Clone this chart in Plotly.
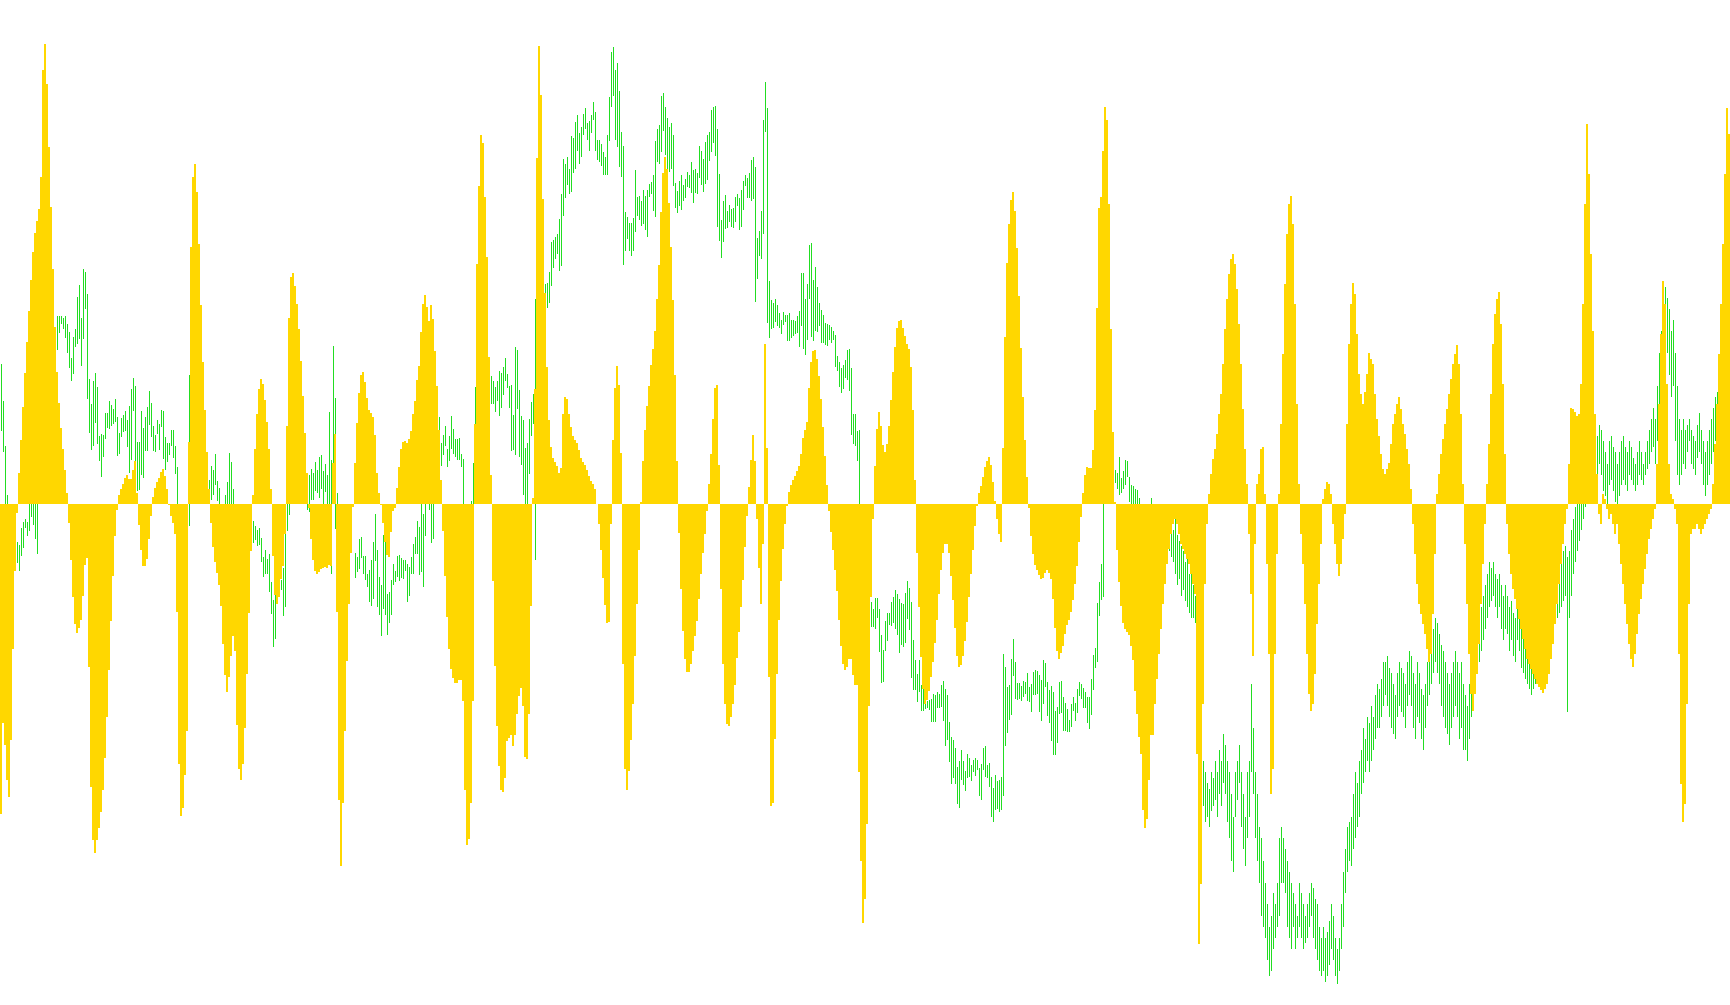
import plotly.graph_objects as go

N_BARS = 865
N = None

# oscillator histogram values, one per bar
osc = [
-310,-219,-241,-276,-293,-236,-145,-67,-9,31,
64,97,131,162,193,224,252,271,283,295,
327,434,460,420,357,297,235,177,132,101,
76,55,34,11,-19,-56,-93,-120,-129,-124,
-116,-92,-61,-54,-163,-283,-336,-349,-336,-324,
-308,-286,-254,-213,-166,-117,-72,-32,-6,9,
15,20,26,29,25,25,34,43,11,-21,
-46,-62,
-62,-55,-35,-12,7,16,22,26,32,35,
28,15,-1,-12,-19,-30,-108,-260,-312,-304,
-271,-227,62,257,327,340,312,260,199,142,
94,52,15,-19,-43,-58,-69,-81,-102,-140,
-171,-188,-173,-152,-132,-147,-221,-265,-276,-260,
-224,-170,-109,-47,9,55,90,115,125,120,
104,82,55,15,-52,-91,-100,-93,-75,-62,
-30,78,
186,227,231,218,200,175,143,108,71,31,
-4,-35,-56,-67,-70,-68,-65,-64,-63,-64,
-61,-62,41,70,-108,-296,-362,-299,-227,-157,
-100,-49,-3,41,81,111,129,132,122,106,
94,91,87,69,31,11,-1,-19,-38,-51,
-53,-28,-7,-4,16,37,55,62,63,61,
65,73,90,103,124,138,172,200,209,197,
183,199,
185,153,118,74,24,-27,-72,-113,-145,-165,
-174,-179,-179,-176,-176,-197,-286,-341,-335,-299,
-197,80,240,318,369,361,307,247,147,29,
-77,-162,-222,-262,-286,-288,-274,-237,-234,-231,
-242,-231,-210,-192,-184,-202,-253,-255,-210,-102,
6,115,346,458,409,305,211,137,84,57,
46,42,38,31,36,90,107,105,90,77,
68,64,
61,54,46,42,39,34,28,23,20,15,
0,-20,-46,-74,-101,-119,-118,-20,64,116,
138,119,51,-160,-265,-286,-267,-236,-200,-152,
-100,-46,2,43,74,98,118,139,155,173,
205,239,292,331,347,335,301,257,204,129,
43,-29,-85,-127,-155,-168,-168,-160,-147,-132,
-117,-95,-70,-49,-30,-7,20,50,85,116,
119,39,
-85,-160,-200,-220,-222,-213,-200,-181,-154,-128,
-103,-76,-43,-12,17,44,69,43,-15,-64,
-100,-40,160,56,-173,-302,-299,-235,-170,-116,
-77,-45,-20,-2,12,19,24,28,33,38,
50,66,74,82,116,142,153,154,145,128,
105,77,48,19,-7,-28,-46,-66,-87,-116,
-142,-160,-166,-163,-155,-155,-171,-181,-181,-268,
-357,-419,
-395,-320,-202,-93,-15,38,75,92,78,59,
52,60,78,104,132,157,176,183,184,176,
168,160,155,137,94,24,-49,-103,-153,-185,
-200,-196,-187,-173,-158,-139,-116,-90,-66,-49,
-40,-40,-49,-72,-96,-124,-152,-163,-161,-152,
-137,-118,-93,-70,-46,-22,-2,11,18,27,
37,43,47,39,22,3,-15,-30,-38,56,
167,241,
280,304,312,293,256,208,156,107,64,27,
-4,-32,-50,-61,-66,-71,-75,-74,-69,-66,
-69,-75,-95,-124,-147,-155,-149,-142,-130,-121,
-116,-108,-96,-80,-62,-38,-13,11,29,37,
36,36,54,94,196,296,307,353,397,384,
300,175,72,2,-46,-78,-102,-119,-125,-128,
-131,-142,-156,-187,-210,-233,-250,-306,-324,-315,
-276,-231,-231,
-200,-175,-150,-125,-100,-80,
-60,-45,-30,-20,-15,-20,-30,-40,-45,-50,-55,-60,-70,-80,-90,
-250,-440,-380,-200,-80,-20,
10,30,45,55,70,90,110,140,175,205,230,245,250,240,215,180,140,95,55,20,
-30,
-90,-152,
-40,20,
30,55,57,
10,-60,
-150,-290,-265,-150,
-50,10,80,
150,220,270,300,308,280,200,100,
20,-30,
-60,-100,-150,-190,-207,-200,-170,-120,-80,-40,
5,15,22,20,10,
-20,-40,-60,-72,-60,-35,-10,
80,160,200,221,210,170,130,110,
100,112,130,151,145,140,110,85,68,50,35,30,35,41,60,80,90,100,107,95,80,70,55,40,15,
-20,-50,-80,-100,-110,-120,-130,-145,-158,-150,-110,-50,
10,30,50,65,80,95,110,125,140,150,159,140,90,
20,-40,-100,-150,-190,-207,-190,-170,-140,-100,-60,-20,
20,60,110,160,190,205,212,180,120,50,
-20,-50,-70,-85,-95,-105,-115,-125,-135,-145,-155,-160,-165,-170,-175,-180,-183,-186,-189,-185,
-180,-170,-155,-140,-120,-100,-80,-60,-40,-20,-5,
40,96,95,92,88,90,120,200,300,380,330,250,173,90,30,
-10,-20,10,5,-5,-15,-10,-20,-30,
-20,-40,-60,-80,-100,-120,-140,-155,-163,-150,-130,-110,-95,-80,-65,-50,-35,-25,-15,-5,
40,100,170,223,200,120,40,
10,5,-5,
-20,-150,-280,-318,-300,-200,-100,-30,
-25,-25,-20,-25,-30,-25,-20,-15,-10,-5,
20,60,100,150,200,260,330,396,370,
]

# price bar highs / lows (None where the bar is hidden behind the histogram)
price_high = [
1060,1000,928,848,N,N,N,N,772,768,
795,805,810,805,850,855,850,845,860,N,
N,N,N,N,N,N,N,N,1138,1138,
1138,1135,1138,1124,1112,1070,1103,1116,1168,1188,
1134,1214,1209,1173,1036,995,1032,1046,1023,943,
947,945,981,981,1000,994,987,1004,974,949,
972,978,984,970,992,1020,1037,1025,934,934,
984,957,974,990,1016,997,960,945,970,963,
986,984,942,932,932,953,953,928,894,N,
N,N,N,N,1042,N,N,N,N,N,
N,N,N,N,873,895,889,915,870,860,
N,N,848,869,916,901,857,N,N,N,
N,N,N,N,N,N,806,798,792,794,
779,748,759,745,753,708,678,687,N,N,
710,730,785,860,900,N,N,N,N,N,
N,N,N,850,880,890,883,902,889,909,
913,887,898,880,982,905,1089,1005,852,N,
N,N,N,N,N,N,N,755,748,777,
780,749,750,721,727,743,772,818,759,716,
703,784,778,688,691,711,737,725,750,751,
746,743,743,736,731,748,769,780,806,797,
840,817,850,N,850,860,860,N,N,974,
932,945,959,923,944,976,955,939,939,940,
915,907,N,N,N,839,900,1022,N,N,
N,N,N,N,N,1041,1033,1022,1033,1048,
1045,1055,1070,1044,1025,1026,978,1088,1082,1018,
976,969,924,932,971,999,1012,1165,N,N,
N,N,1190,1191,1209,1257,1260,1265,1270,1294,
1334,1392,1383,1395,1375,1428,1425,1451,1463,1433,
1443,1464,1474,1450,1453,1463,1484,1467,1422,1422,
1416,1403,1395,1430,1492,1564,1573,1535,1547,1501,
1435,1413,1306,1297,1288,1288,1296,1374,1330,1332,
1324,1341,1332,1341,1351,1355,1366,1421,1440,1446,
1493,1498,1475,1458,1443,1450,1430,1353,1340,1356,
1365,1349,1359,1370,1366,1387,1373,1376,1369,1412,
1405,1391,1419,1430,1435,1470,1475,1477,1440,1367,
1293,1324,1333,1307,1317,1311,1312,1330,1334,1329,
1342,1356,1366,1360,1369,1390,1395,1379,1264,1275,
1307,1455,1516,1474,1194,1164,1159,1165,1155,1143,
1131,1144,1139,1139,1143,1131,1131,1129,1137,1146,
1207,1207,1165,1190,1252,1256,1195,1217,1185,1159,
1147,1139,1127,1124,1123,1120,1113,1107,1073,1063,
1054,1059,1067,1083,1084,1054,979,979,952,953,
N,N,N,N,N,675,663,682,682,663,
622,597,645,658,658,675,683,695,688,680,
673,672,689,709,697,675,614,582,559,581,
541,540,515,515,516,518,527,524,530,526,
541,548,535,524,481,457,452,439,408,418,
436,418,402,430,423,412,420,423,419,406,
413,439,442,412,415,392,374,396,385,387,
392,591,570,537,541,583,616,578,544,544,
540,547,545,560,537,542,562,565,563,557,
549,581,576,545,532,539,529,499,506,546,
548,521,512,502,485,510,522,511,535,546,
542,536,529,521,521,550,589,600,673,708,
736,850,N,N,N,N,N,889,884,909,
875,887,905,903,878,865,862,857,856,843,
N,N,N,N,N,843,N,N,N,N,
N,N,N,N,810,801,792,810,783,774,
765,757,739,748,721,730,703,685,N,N,
N,418,400,382,373,400,391,418,400,435,
418,462,444,418,400,364,328,400,418,444,
400,364,328,400,418,542,471,400,364,311,
293,257,221,186,150,168,204,186,221,293,
311,293,275,257,239,221,204,186,168,221,
204,186,168,186,204,221,212,195,186,150,
132,150,132,141,159,186,168,132,114,132,
186,239,275,311,319,328,364,400,382,418,
435,471,453,489,480,507,489,525,542,534,
551,578,578,587,569,560,542,525,560,578,
569,560,542,578,596,587,560,542,578,560,
534,525,542,578,587,614,632,650,641,623,
605,596,578,560,542,560,578,596,578,560,
578,542,525,507,542,578,596,614,632,650,
667,685,703,721,739,730,739,721,712,721,
703,685,703,685,667,676,658,650,685,676,
650,641,623,614,605,596,587,605,614,623,
632,650,667,676,685,694,703,712,721,730,
739,757,765,748,757,792,810,828,846,864,
881,899,917,935,953,962,953,935,944,962,
953,935,917,899,935,944,926,917,899,917,
935,944,926,917,935,926,908,899,917,935,
917,899,917,935,953,971,988,971,1024,1078,
1113,1167,1185,1167,1149,1113,1131,1078,1024,971,
953,971,953,962,971,953,944,935,962,980,
953,935,917,935,953,971,988,1006,1015,1024,
1042,1051,1060,1060,1051,
]

price_low = [
952,918,820,800,N,N,N,N,738,725,
750,762,795,782,790,813,799,777,752,N,
N,N,N,N,N,N,N,N,1082,1110,
1125,1117,1102,1078,1053,1032,1043,1087,1092,1100,
1057,1100,1149,1004,949,921,928,964,930,903,
877,910,938,956,955,960,963,966,911,914,
942,950,952,925,883,905,984,903,854,856,
880,875,919,919,962,942,920,917,947,921,
958,907,888,902,912,928,908,882,820,N,
N,N,N,N,798,N,N,N,N,N,
N,N,N,N,840,840,848,865,838,825,
N,N,810,810,810,810,810,N,N,N,
N,N,N,N,N,N,770,775,765,768,
740,716,720,720,692,656,603,616,N,N,
695,652,667,790,815,N,N,N,N,N,
N,N,N,824,820,840,840,855,852,843,
858,830,853,830,825,720,900,793,810,N,
N,N,N,N,N,N,N,714,724,729,
746,720,711,700,675,669,680,742,667,654,
620,664,654,621,641,654,703,708,715,709,
714,712,725,675,685,720,720,752,752,719,
724,699,782,N,824,771,777,N,N,940,
895,913,928,894,903,922,914,909,905,905,
893,825,N,N,N,820,820,940,N,N,
N,N,N,N,N,995,995,983,1000,976,
989,1010,1032,1021,989,919,921,913,987,909,
897,848,825,825,882,943,963,743,N,N,
N,N,1173,1151,1158,1186,1215,1230,1238,1210,
1219,1299,1328,1350,1334,1338,1368,1375,1404,1384,
1394,1430,1440,1422,1405,1433,1454,1404,1389,1386,
1380,1365,1365,1365,1420,1475,1493,1422,1410,1379,
1363,1220,1243,1262,1242,1234,1242,1273,1300,1292,
1283,1287,1276,1265,1330,1335,1308,1297,1386,1383,
1403,1436,1398,1348,1370,1375,1347,1312,1304,1315,
1309,1324,1329,1346,1345,1336,1321,1336,1334,1360,
1350,1338,1351,1357,1388,1402,1418,1397,1281,1258,
1231,1257,1278,1280,1290,1281,1280,1290,1315,1276,
1282,1309,1348,1329,1328,1323,1327,1160,1197,1235,
1230,1270,1435,1126,1102,1117,1118,1128,1122,1118,
1109,1123,1128,1097,1097,1102,1105,1109,1110,1087,
1122,1084,1074,1099,1165,1104,1097,1113,1111,1121,
1094,1094,1091,1089,1099,1094,1098,1055,1049,1023,
1013,1020,1038,1034,1016,945,930,928,903,820,
N,N,N,N,N,635,635,632,649,594,
544,545,596,612,638,637,641,631,621,592,
606,603,608,647,629,552,532,532,513,530,
499,499,502,504,500,481,481,481,504,503,
506,483,443,452,417,381,391,381,349,342,
388,379,369,390,392,385,400,394,403,362,
355,404,392,390,376,328,319,339,341,335,
338,362,442,463,485,493,555,519,517,519,
515,521,527,515,514,497,524,524,527,498,
483,510,537,491,480,450,428,428,447,494,
496,467,467,465,465,473,499,483,496,523,
518,504,503,479,469,493,532,568,578,652,
679,683,N,N,N,N,N,867,858,848,
852,857,865,877,836,830,825,820,820,815,
N,N,N,N,N,815,N,N,N,N,
N,N,N,N,757,748,739,721,703,712,
685,694,676,667,658,650,650,641,N,N,
N,346,319,328,311,337,346,355,328,364,
346,382,364,319,293,257,239,328,355,382,
311,275,248,293,328,400,364,293,257,221,
168,150,132,96,70,79,114,132,150,168,
221,221,204,150,132,114,150,114,132,150,
132,114,123,132,150,168,132,114,96,79,
70,79,61,70,88,114,96,70,57,79,
114,150,204,239,257,248,275,293,311,328,
364,382,400,418,400,418,435,453,471,471,
489,507,525,507,489,471,462,453,489,507,
498,489,471,507,525,507,471,453,489,480,
453,435,471,507,525,542,560,578,560,542,
507,489,471,462,444,471,489,507,489,453,
471,435,435,418,453,489,525,542,560,578,
596,614,632,650,667,676,685,667,650,667,
632,614,632,623,596,614,587,578,614,596,
569,560,551,542,534,525,534,542,551,560,
569,578,596,605,614,623,632,641,650,658,
667,676,685,498,650,685,721,739,757,774,
792,810,828,846,864,881,890,864,873,899,
881,855,846,828,864,873,855,837,828,846,
864,873,864,855,881,873,864,855,864,881,
873,864,881,890,899,917,926,899,935,971,
1006,1060,1096,1078,1042,1006,1024,935,881,864,
881,899,890,917,935,899,890,881,908,917,
899,864,846,864,881,899,917,935,953,971,
980,988,1006,1006,997,
]

assert len(osc) == N_BARS, len(osc)
assert len(price_high) == N_BARS, len(price_high)
assert len(price_low) == N_BARS, len(price_low)

GOLD = "#FFD700"
GREEN = "#22DD22"

idx = list(range(N_BARS))
rng = [None if (h is None or l is None) else h - l for h, l in zip(price_high, price_low)]

fig = go.Figure()
# price bars as thin high-low segments (drawn first, beneath the histogram)
fig.add_trace(go.Bar(
    x=idx, y=rng, base=price_low, width=0.5,
    marker=dict(color=GREEN, line=dict(width=0)),
    xaxis="x", yaxis="y", hoverinfo="skip",
))
# oscillator histogram on top
fig.add_trace(go.Bar(
    x=idx, y=osc, width=1.0,
    marker=dict(color=GOLD, line=dict(width=0)),
    xaxis="x2", yaxis="y2", hoverinfo="skip",
))

fig.update_layout(
    width=1730, height=1005,
    margin=dict(l=0, r=0, t=0, b=0, pad=0),
    paper_bgcolor="white", plot_bgcolor="white",
    showlegend=False, hovermode=False, bargap=0,
    xaxis=dict(range=[-0.75, N_BARS - 0.75], visible=False, fixedrange=True),
    xaxis2=dict(range=[-0.5, N_BARS - 0.5], visible=False, overlaying="x", fixedrange=True),
    yaxis=dict(range=[23.4, 1648.5], visible=False, fixedrange=True),
    yaxis2=dict(range=[-501, 504], visible=False, overlaying="y", fixedrange=True),
)

fig.write_html("out.html", config={"displayModeBar": False},
               post_script="document.body.style.margin='0';document.body.style.overflow='hidden';")
